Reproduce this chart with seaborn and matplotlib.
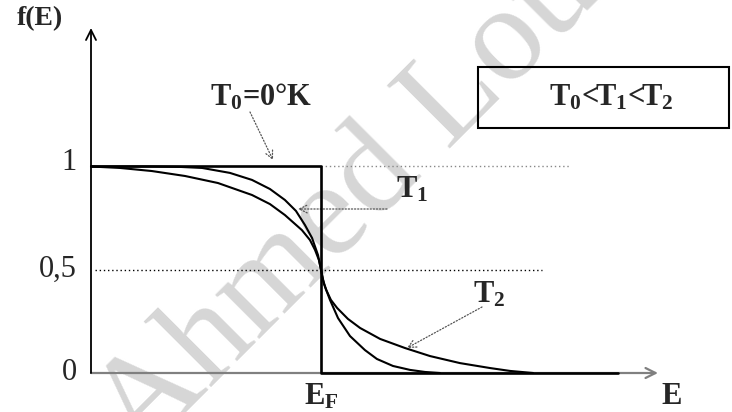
import numpy as np
import pandas as pd
import matplotlib
matplotlib.use("Agg")
import matplotlib.pyplot as plt
from matplotlib.patches import Rectangle
import seaborn as sns

sns.set_style("white")
plt.rcParams["font.family"] = ["Liberation Serif", "DejaVu Serif"]
plt.rcParams["mathtext.fontset"] = "custom"
plt.rcParams["mathtext.rm"] = "Liberation Serif:bold"
plt.rcParams["mathtext.bf"] = "Liberation Serif:bold"
plt.rcParams["mathtext.it"] = "Liberation Serif:bold"

# Fermi-Dirac occupation f(E), energy in units of E_F
e_t0 = [0.0, 1.0, 1.0, 2.29]
f_t0 = [1.0, 1.0, 0.0, 0.0]

e_t1 = [0.0, 0.257, 0.387, 0.483, 0.604, 0.700, 0.778, 0.843, 0.891, 0.930,
        0.961, 0.987, 1.0, 1.013, 1.039, 1.074, 1.126, 1.191, 1.243, 1.313,
        1.387, 1.452, 1.517]
f_t1 = [1.0, 1.0, 0.998, 0.993, 0.969, 0.935, 0.891, 0.838, 0.785, 0.717,
        0.654, 0.571, 0.5, 0.431, 0.354, 0.266, 0.179, 0.111, 0.068, 0.034,
        0.015, 0.005, 0.0]

e_t2 = [0.0, 0.126, 0.265, 0.409, 0.552, 0.700, 0.778, 0.843, 0.917, 0.952,
        0.974, 0.991, 1.0, 1.009, 1.022, 1.043, 1.070, 1.117, 1.170, 1.257,
        1.365, 1.474, 1.604, 1.735, 1.822, 1.922]
f_t2 = [1.0, 0.993, 0.978, 0.954, 0.920, 0.862, 0.818, 0.765, 0.692, 0.644,
        0.596, 0.547, 0.5, 0.450, 0.404, 0.354, 0.315, 0.262, 0.218, 0.165,
        0.121, 0.082, 0.048, 0.024, 0.010, 0.0]

ytick_vals = [0.0, 0.5, 1.0]
ytick_labels = ["0", "0,5", "1"]

W, H = 732, 412
fig = plt.figure(figsize=(W / 100, H / 100), dpi=100)
ax = fig.add_axes([0, 0, 1, 1])

# pixel -> data helpers for placing annotations
X0, XS = 91, 230.0
Y0, YS = 373, 206.5
def px(x):
    return (x - X0) / XS
def py(y):
    return (Y0 - y) / YS

ax.set_xlim(px(0), px(W))
ax.set_ylim(py(H), py(0))

curves = pd.concat([
    pd.DataFrame({"E": e_t1, "f": f_t1, "curve": "T1"}),
    pd.DataFrame({"E": e_t2, "f": f_t2, "curve": "T2"}),
])
sns.lineplot(data=curves, x="E", y="f", hue="curve", units="curve",
             estimator=None, sort=False, palette=["black", "black"],
             linewidth=1.5, legend=False, ax=ax, zorder=3)
sns.lineplot(x=e_t0, y=f_t0, sort=False, estimator=None, color="black",
             linewidth=1.9, ax=ax, zorder=4)

# reference dotted levels
ax.plot([1.0, px(570)], [1.0, 1.0], color="#888888", lw=1.0, ls=(0, (1, 2)), zorder=2)
ax.plot([px(95), px(542)], [0.5, 0.5], color="black", lw=1.0, ls=(0, (1, 2)), zorder=2)

# axes with arrows
ax.annotate("", xy=(0, py(28)), xytext=(0, 0),
            arrowprops=dict(arrowstyle="->", color="black", lw=1.3,
                            mutation_scale=18, shrinkA=0, shrinkB=0), zorder=3)
ax.annotate("", xy=(px(658), 0), xytext=(0, 0),
            arrowprops=dict(arrowstyle="->", color="#808080", lw=1.6,
                            mutation_scale=18, shrinkA=0, shrinkB=0), zorder=1)

fs = 22
for v, lab in zip(ytick_vals, ytick_labels):
    ax.text(px(77), v + (0.02 if v == 1.0 else 0.0), lab, ha="right", va="center", fontsize=fs)

bold = dict(ha="center", va="center", fontsize=fs, fontweight="bold")
ax.text(px(40), py(19), "f(E)", ha="center", va="center", fontsize=20, fontweight="bold")
ax.text(1.0, py(397), "E$_\\mathrm{F}$", **bold)
ax.text(px(672), py(397), "E", **bold)

ax.text(px(261), py(97), "T$_0$=0°K", **bold)
ax.text(px(412), py(190), "T$_1$", **bold)
ax.text(px(489), py(295), "T$_2$", **bold)

# label pointers
arrow_kw = dict(arrowstyle="->", color="#555555", lw=0.9, ls=(0, (1, 1.5)),
                mutation_scale=14, shrinkA=0, shrinkB=0)
ax.annotate("", xy=(px(273), py(160)), xytext=(px(250), py(112)), arrowprops=arrow_kw)
ax.annotate("", xy=(px(298), py(209)), xytext=(px(387), py(209)), arrowprops=arrow_kw)
ax.annotate("", xy=(px(407), py(348)), xytext=(px(482), py(307)), arrowprops=arrow_kw)

# temperature ordering box
ax.add_patch(Rectangle((px(478), py(128)), px(729) - px(478), py(67) - py(128),
                       fill=False, edgecolor="black", lw=1.5, zorder=3))
ax.text(px(611), py(98), "T$_0$<T$_1$<T$_2$", **bold)

# watermark
ax.text(140 / W, 1 - 458 / H, "Ahmed Louati", transform=fig.transFigure,
        rotation=45, rotation_mode="anchor", ha="left", va="baseline",
        fontsize=98, color="#d6d6d6", zorder=0)

ax.set_axis_off()
fig.savefig("out.png", dpi=100, facecolor="white")
